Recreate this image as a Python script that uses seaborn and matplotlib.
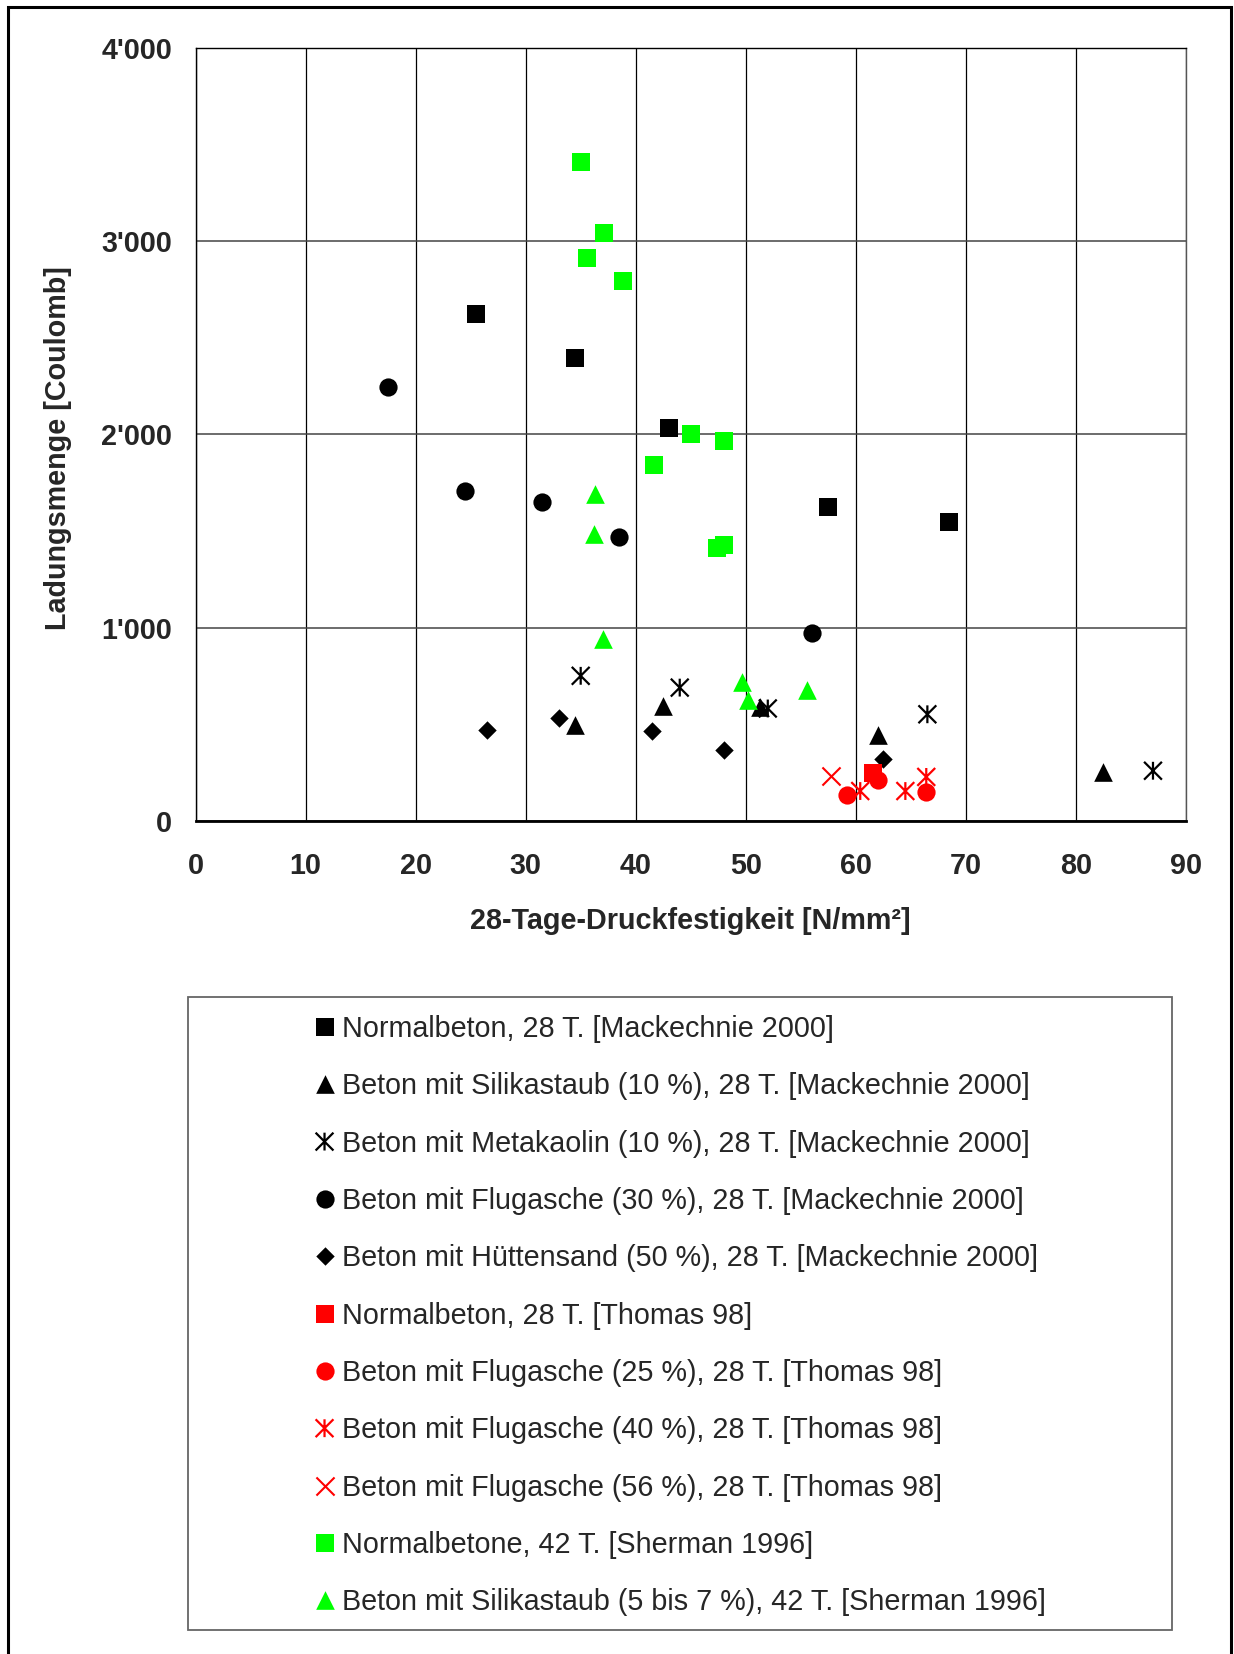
import numpy as np
import pandas as pd
import matplotlib
matplotlib.use("Agg")
import matplotlib.pyplot as plt
from matplotlib.path import Path
from matplotlib.patches import Rectangle
from matplotlib.ticker import FuncFormatter, MultipleLocator
import seaborn as sns

# ---- data: 28-day compressive strength [N/mm2] vs. charge passed [Coulomb] ----
mack_normal_x = [25.5, 34.5, 43.0, 57.5, 68.5]
mack_normal_y = [2620, 2395, 2035, 1625, 1548]

mack_silica_x = [34.5, 42.5, 51.3, 62.0, 82.5]
mack_silica_y = [495, 594, 588, 443, 255]

mack_metakaolin_x = [35.0, 44.0, 52.0, 66.5, 87.0]
mack_metakaolin_y = [751, 690, 582, 552, 260]

mack_flyash_x = [17.5, 24.5, 31.5, 38.5, 56.0]
mack_flyash_y = [2243, 1706, 1648, 1469, 970]

mack_slag_x = [26.5, 33.0, 41.5, 48.0, 62.5]
mack_slag_y = [469, 535, 464, 369, 319]

thomas_normal_x = [61.6]
thomas_normal_y = [248]

thomas_fa25_x = [59.2, 62.0, 66.4]
thomas_fa25_y = [133, 214, 150]

thomas_fa40_x = [60.4, 64.5, 66.4]
thomas_fa40_y = [155, 155, 228]

thomas_fa56_x = [57.7]
thomas_fa56_y = [231]

sherman_normal_x = [35.0, 37.1, 35.6, 38.8, 45.0, 48.0, 41.7, 47.4, 48.0]
sherman_normal_y = [3411, 3041, 2910, 2794, 2002, 1964, 1841, 1411, 1430]

sherman_silica_x = [36.3, 36.2, 37.0, 49.7, 50.2, 55.6]
sherman_silica_y = [1693, 1482, 939, 720, 628, 676]

series_labels = [
    "Normalbeton, 28 T. [Mackechnie 2000]",
    "Beton mit Silikastaub (10 %), 28 T. [Mackechnie 2000]",
    "Beton mit Metakaolin (10 %), 28 T. [Mackechnie 2000]",
    "Beton mit Flugasche (30 %), 28 T. [Mackechnie 2000]",
    "Beton mit Hüttensand (50 %), 28 T. [Mackechnie 2000]",
    "Normalbeton, 28 T. [Thomas 98]",
    "Beton mit Flugasche (25 %), 28 T. [Thomas 98]",
    "Beton mit Flugasche (40 %), 28 T. [Thomas 98]",
    "Beton mit Flugasche (56 %), 28 T. [Thomas 98]",
    "Normalbetone, 42 T. [Sherman 1996]",
    "Beton mit Silikastaub (5 bis 7 %), 42 T. [Sherman 1996]",
]

x_label = "28-Tage-Druckfestigkeit [N/mm²]"
y_label = "Ladungsmenge [Coulomb]"

# ---- styling ----
sns.set_style("white")
plt.rcParams["font.family"] = ["Liberation Sans", "DejaVu Sans"]
FS = 20.7

# asterisk: an X with a vertical bar
asterisk = Path(
    [(-1, -1), (1, 1), (-1, 1), (1, -1), (0, -1), (0, 1)],
    [Path.MOVETO, Path.LINETO, Path.MOVETO, Path.LINETO, Path.MOVETO, Path.LINETO],
)

BLACK, RED, GREEN = "#000000", "#ff0000", "#00ff00"

# (x, y, marker, colour, size, kind)
series = [
    (mack_normal_x, mack_normal_y, "s", BLACK, 162, "filled"),
    (mack_silica_x, mack_silica_y, "^", BLACK, 180, "filled"),
    (mack_metakaolin_x, mack_metakaolin_y, asterisk, BLACK, 165, "path"),
    (mack_flyash_x, mack_flyash_y, "o", BLACK, 172, "filled"),
    (mack_slag_x, mack_slag_y, "D", BLACK, 88, "filled"),
    (thomas_normal_x, thomas_normal_y, "s", RED, 162, "filled"),
    (thomas_fa25_x, thomas_fa25_y, "o", RED, 172, "filled"),
    (thomas_fa40_x, thomas_fa40_y, asterisk, RED, 165, "path"),
    (thomas_fa56_x, thomas_fa56_y, "x", RED, 170, "line"),
    (sherman_normal_x, sherman_normal_y, "s", GREEN, 162, "filled"),
    (sherman_silica_x, sherman_silica_y, "^", GREEN, 180, "filled"),
]

W, H = 1234, 1654
fig = plt.figure(figsize=(W / 100, H / 100), dpi=100)

# plot area in pixels
ax_l, ax_r, ax_t, ax_b = 195.5, 1186.0, 47.7, 821.0
ax = fig.add_axes([ax_l / W, 1 - ax_b / H, (ax_r - ax_l) / W, (ax_b - ax_t) / H])

for (xs, ys, mk, col, size, kind), lab in zip(series, series_labels):
    df = pd.DataFrame({"x": xs, "y": ys})
    if kind == "filled":
        sns.scatterplot(data=df, x="x", y="y", ax=ax, marker=mk, s=size,
                        color=col, edgecolor=col, linewidth=0, label=lab,
                        legend=False, zorder=3)
    elif kind == "path":
        sns.scatterplot(data=df, x="x", y="y", ax=ax, marker=mk, s=size,
                        color=col, facecolor="none", edgecolor=col,
                        linewidth=1.6, label=lab, legend=False, zorder=3)
    else:
        sns.scatterplot(data=df, x="x", y="y", ax=ax, marker=mk, s=size,
                        color=col, linewidth=1.5, label=lab,
                        legend=False, zorder=3)

ax.set_xlim(0, 90)
ax.set_ylim(0, 4000)
ax.xaxis.set_major_locator(MultipleLocator(10))
ax.yaxis.set_major_locator(MultipleLocator(1000))
ax.yaxis.set_major_formatter(FuncFormatter(lambda v, p: f"{int(round(v)):,}".replace(",", "'")))

ax.grid(True, axis="x", color="#000000", linewidth=0.9, zorder=0)
ax.grid(True, axis="y", color="#444444", linewidth=1.1, zorder=0)
ax.set_axisbelow(True)

for side in ["top", "left", "right"]:
    ax.spines[side].set_color("#000000")
    ax.spines[side].set_linewidth(1.0)
ax.spines["right"].set_color("#555555")
ax.spines["bottom"].set_color("#000000")
ax.spines["bottom"].set_linewidth(2.0)

ax.tick_params(axis="both", length=0, labelsize=FS)
ax.tick_params(axis="x", pad=22)
ax.tick_params(axis="y", pad=17)
for t in ax.get_xticklabels() + ax.get_yticklabels():
    t.set_fontweight("bold")

ax.set_xlabel(x_label, fontsize=FS, fontweight="bold")
ax.set_ylabel(y_label, fontsize=FS, fontweight="bold")
ax.xaxis.set_label_coords(0.5, (ax_b - 921) / (ax_b - ax_t))
ax.xaxis.label.set_va("center")
ax.yaxis.set_label_coords((58 - ax_l) / (ax_r - ax_l), (ax_b - 448) / (ax_b - ax_t))
ax.yaxis.label.set_va("center")

# legend frame and entries below the plot
fig.patches.append(Rectangle((188.3 / W, 1 - 1630 / H), (1171.7 - 188.3) / W, (1630 - 997) / H,
                             transform=fig.transFigure, facecolor="white",
                             edgecolor="#666666", linewidth=1.3, zorder=0))
handles, labels = ax.get_legend_handles_labels()
fig.legend(handles, labels, loc="upper left",
           bbox_to_anchor=(315.9 / W, 1 - 1015 / H), bbox_transform=fig.transFigure,
           frameon=False, borderpad=0, borderaxespad=0, handlelength=0.6,
           handletextpad=0.3, labelspacing=1.02, scatterpoints=1,
           scatteryoffsets=[0.5], fontsize=FS)

# outer chart border
fig.patches.append(Rectangle((8 / W, -0.01), (1231 - 8) / W, 1 - 7 / H + 0.01,
                             transform=fig.transFigure, facecolor="none",
                             edgecolor="#000000", linewidth=2.2, zorder=5))

fig.savefig("out.png", dpi=100)
